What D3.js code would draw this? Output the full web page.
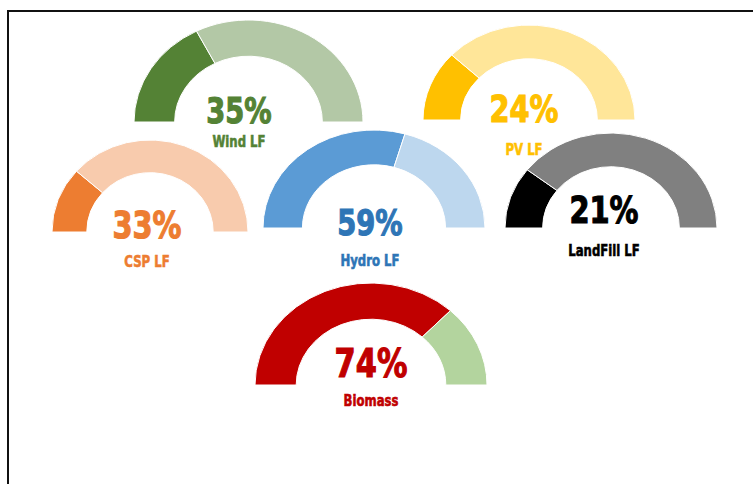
<!DOCTYPE html>
<html>
<head>
<meta charset="utf-8">
<script src="https://cdn.jsdelivr.net/npm/d3@7"></script>
<style>
    body { margin: 0; background: #fff; }
    text { font-family: "DejaVu Sans", sans-serif; font-weight: bold; }
</style>
</head>
<body>
<div id="chart"></div>
<script>
// gauge data
const names = ["Wind LF", "PV LF", "CSP LF", "Hydro LF", "LandFill LF", "Biomass"];
const values = [35, 24, 33, 59, 21, 74];
// share of the half ring that is filled, as drawn (CSP ring is drawn shorter than its label)
const arcShares = [35, 24, 23, 59, 21, 74];

// where each gauge sits and how it looks
const layout = [
    {cx: 248.5, cy: 122, rx: 114.5, ry: 102, tx: 239, vy: 123, ly: 147, fs: 35},
    {cx: 529,   cy: 120, rx: 106,   ry: 95,  tx: 524, vy: 122, ly: 155, fs: 37},
    {cx: 150,   cy: 232, rx: 98,    ry: 92,  tx: 147, vy: 238, ly: 267, fs: 37},
    {cx: 374,   cy: 228, rx: 111,   ry: 98,  tx: 370, vy: 235, ly: 266, fs: 35},
    {cx: 611,   cy: 228, rx: 106,   ry: 95,  tx: 604, vy: 223, ly: 256, fs: 37},
    {cx: 371,   cy: 385, rx: 116,   ry: 102, tx: 371, vy: 377, ly: 406, fs: 39}
];
const fillColors = ["#548235", "#FFC000", "#ED7D31", "#5B9BD5", "#000000", "#C00000"];
const restColors = ["#B3C8A6", "#FFE699", "#F8CBAD", "#BDD7EE", "#808080", "#B3D49E"];
const textColors = ["#548235", "#FFC000", "#ED7D31", "#2E75B6", "#000000", "#C00000"];

let width = 753, height = 484;
let squeeze = 0.78; // condensed look for the text

let svg = d3.select("#chart").append("svg")
    .attr("width", width)
    .attr("height", height);

// frame
svg.append("rect")
    .attr("x", 8)
    .attr("y", 11)
    .attr("width", width + 20)
    .attr("height", height + 20)
    .attr("fill", "none")
    .attr("stroke", "#111")
    .attr("stroke-width", 2);

let angle = d3.scaleLinear()
    .domain([0, 100])
    .range([-Math.PI / 2, Math.PI / 2]);

names.forEach((name, i) => {
    let L = layout[i];
    let arc = d3.arc()
        .innerRadius(L.rx * 0.645)
        .outerRadius(L.rx);

    let g = svg.append("g")
        .attr("transform", "translate(" + L.cx + "," + L.cy + ") scale(1," + (L.ry / L.rx) + ")");

    let segs = [
        {startAngle: angle(0), endAngle: angle(arcShares[i]), color: fillColors[i]},
        {startAngle: angle(arcShares[i]), endAngle: angle(100), color: restColors[i]}
    ];

    g.selectAll("path")
        .data(segs)
        .enter()
        .append("path")
        .attr("d", arc)
        .attr("fill", d => d.color)
        .attr("stroke", "#fff")
        .attr("stroke-width", 1)
        .attr("vector-effect", "non-scaling-stroke");

    svg.append("text")
        .attr("transform", "translate(" + L.tx + "," + L.vy + ") scale(" + squeeze + ",1)")
        .attr("text-anchor", "middle")
        .style("font-size", L.fs + "px")
        .attr("fill", textColors[i])
        .attr("stroke", textColors[i])
        .attr("stroke-width", 1.2)
        .text(values[i] + "%");

    svg.append("text")
        .attr("transform", "translate(" + L.tx + "," + L.ly + ") scale(" + squeeze + ",1)")
        .attr("text-anchor", "middle")
        .style("font-size", "15px")
        .attr("fill", textColors[i])
        .attr("stroke", textColors[i])
        .attr("stroke-width", 0.6)
        .text(name);
});
</script>
</body>
</html>
